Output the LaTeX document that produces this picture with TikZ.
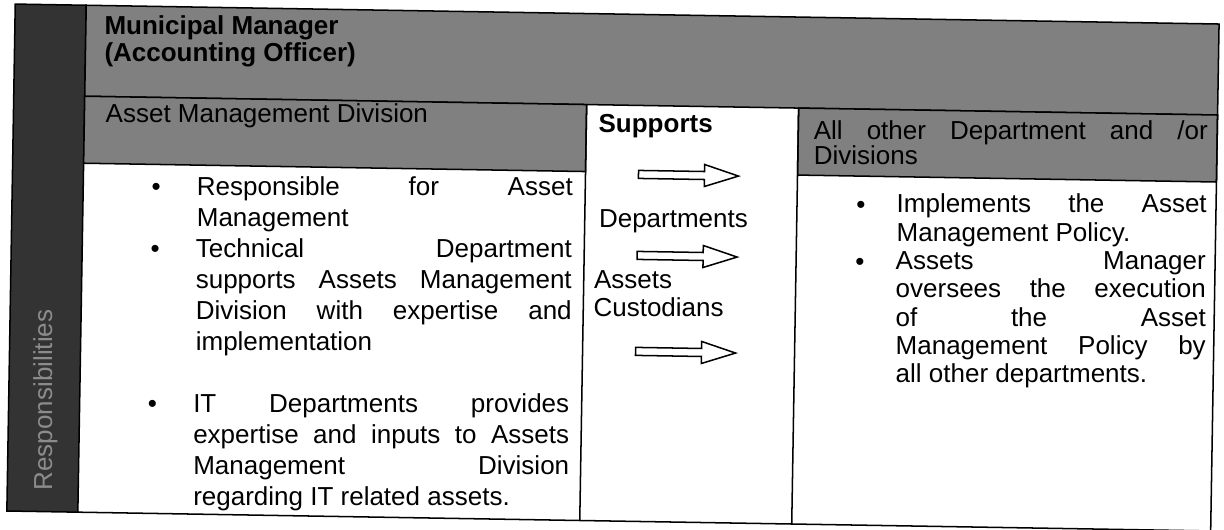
\documentclass[tikz,border=0pt]{standalone}
\usepackage{fontspec}
\setmainfont{Liberation Sans}
\begin{document}
\begin{tikzpicture}[x=0.4615pt,y=-0.4615pt]
\tikzset{every node/.style={font=\fontsize{12}{13.6}\selectfont, inner sep=0pt}}
\tikzset{headcell/.style={fill=black!50, draw=black, line width=0.7pt}}
\tikzset{sidecell/.style={fill=black!80, draw=black, line width=0.7pt}}
\tikzset{rule/.style={draw=black, line width=0.7pt}}
\tikzset{suparrow/.style={draw=black, line width=0.7pt, fill=white}}
\tikzset{itemtext/.style={anchor=north west, align=justify}}

\fill[white] (0,0) rectangle (1224,530);
\useasboundingbox (0,0) rectangle (1224,530);

\begin{scope}[rotate around={-0.95:(612,265)}]

% Shaded cells
\draw[sidecell] (11,14) rectangle (82,521);
\draw[headcell] (82,14) rectangle (1215,105);
\draw[headcell] (82,105) rectangle (584,172);
\draw[headcell] (796,105) rectangle (1215,172);

% Table rules
\draw[rule] (584,105) -- (584,521);
\draw[rule] (796,105) -- (796,521);
\draw[rule] (1215,105) -- (1215,521);
\draw[rule] (82,521) -- (1215,521);

% Headers
\node[anchor=base west, rotate=90, text=black!45] (resp) at (56,500) {Responsibilities};
\node[anchor=north west, align=left, font=\fontsize{12}{12.5}\selectfont\bfseries] (mm) at (100,24) {Municipal Manager\\(Accounting Officer)};
\node[anchor=base west] (amd) at (103,131) {Asset Management Division};
\node[anchor=base west, font=\fontsize{12}{13.6}\selectfont\bfseries] (sup) at (596,133) {Supports};
\node[anchor=north west, align=justify, text width=181.8pt, font=\fontsize{12}{11.5}\selectfont] (aod) at (811,117) {All other Department and /or\linebreak Divisions};

% Asset Management Division items
\node[anchor=base] (b1) at (155,203) {•};
\node[itemtext, text width=173.5pt, font=\fontsize{12}{14.3}\selectfont] (l1) at (195,183) {Responsible for Asset\linebreak Management};
\node[anchor=base] (b2) at (155,265) {•};
\node[itemtext, text width=173.5pt, font=\fontsize{12}{14.3}\selectfont] (l2) at (195,245) {Technical Department\linebreak supports Assets Management\linebreak Division with expertise and\linebreak implementation};
\node[anchor=base] (b3) at (155,420) {•};
\node[itemtext, text width=173.5pt, font=\fontsize{12}{14.3}\selectfont] (l3) at (195,400) {IT Departments provides\linebreak expertise and inputs to Assets\linebreak Management Division\linebreak regarding IT related assets.};

% Supports column
\node[anchor=base west] (dep) at (598,228) {Departments};
\node[anchor=base west] (ast) at (594,289) {Assets};
\node[anchor=base west] (cus) at (594,317) {Custodians};

\coordinate (a1) at (637,174);
\coordinate (a2) at (637,255);
\coordinate (a3) at (637,351);
\draw[suparrow] (a1) ++(0,-4) -- ++(66,0) -- ++(0,-7) -- ++(34,11) -- ++(-34,11) -- ++(0,-7) -- ++(-66,0) -- cycle;
\draw[suparrow] (a2) ++(0,-4) -- ++(66,0) -- ++(0,-7) -- ++(34,11) -- ++(-34,11) -- ++(0,-7) -- ++(-66,0) -- cycle;
\draw[suparrow] (a3) ++(0,-4) -- ++(66,0) -- ++(0,-7) -- ++(34,11) -- ++(-34,11) -- ++(0,-7) -- ++(-66,0) -- cycle;

% Other departments items
\node[anchor=base] (r1) at (860,209) {•};
\node[itemtext, text width=143.1pt, font=\fontsize{12}{13.15}\selectfont] (t1) at (895,189) {Implements the Asset\linebreak Management Policy.};
\node[anchor=base] (r2) at (860,266) {•};
\node[itemtext, text width=143.1pt, font=\fontsize{12}{13.15}\selectfont] (t2) at (895,246) {Assets Manager\linebreak oversees the execution\linebreak of the Asset\linebreak Management Policy by\linebreak all other departments.};

\end{scope}
\end{tikzpicture}
\end{document}
